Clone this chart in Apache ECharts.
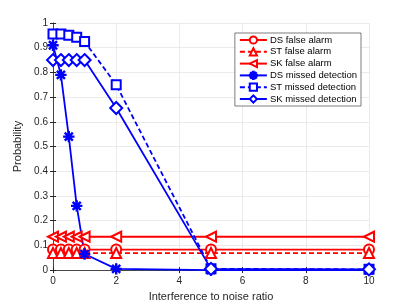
<!DOCTYPE html>
<html><head><meta charset="utf-8">
<script src="https://cdn.jsdelivr.net/npm/echarts@6/dist/echarts.min.js"></script>
<style>html,body{margin:0;padding:0;background:#fff}#c{width:409px;height:307px}</style>
</head><body><div id="c"></div>
<script>
const xVals = [0, 0.25, 0.5, 0.75, 1, 2, 5, 10];
const dsFalseAlarm = [0.083, 0.083, 0.083, 0.083, 0.083, 0.083, 0.083, 0.083];
const stFalseAlarm = [0.069, 0.069, 0.069, 0.069, 0.069, 0.069, 0.069, 0.069];
const skFalseAlarm = [0.135, 0.135, 0.135, 0.135, 0.135, 0.135, 0.135, 0.135];
const dsMissed = [0.91, 0.79, 0.54, 0.26, 0.065, 0.005, 0.0, 0.0];
const stMissed = [0.955, 0.955, 0.95, 0.942, 0.925, 0.75, 0.005, 0.003];
const skMissed = [0.85, 0.85, 0.85, 0.85, 0.85, 0.656, 0.005, 0.003];
const seriesNames = ['DS false alarm', 'ST false alarm', 'SK false alarm', 'DS missed detection', 'ST missed detection', 'SK missed detection'];
const xTicks = [0, 2, 4, 6, 8, 10];
const yTicks = [0, 0.1, 0.2, 0.3, 0.4, 0.5, 0.6, 0.7, 0.8, 0.9, 1];

const star = 'path://M-1,-10 L1,-10 L1,10 L-1,10 Z M-10,-1 L10,-1 L10,1 L-10,1 Z M-7.8,-6.4 L-6.4,-7.8 L7.8,6.4 L6.4,7.8 Z M6.4,-7.8 L7.8,-6.4 L-6.4,7.8 L-7.8,6.4 Z';
const pair = arr => xVals.map((x, i) => [x, arr[i]]);
const RED = '#ff0000', BLUE = '#0000ff';
function mk(name, data, color, symbol, dashed, extra) {
  return Object.assign({
    name, type: 'line', data: pair(data), symbol, symbolSize: 10,
    lineStyle: { color, width: 1.8, type: dashed ? [5, 3] : 'solid' },
    itemStyle: { color, borderColor: color, borderWidth: 1.4 },
    emphasis: { disabled: true }, animation: false, z: 3
  }, extra || {});
}
const chart = echarts.init(document.getElementById('c'));
const axisTxt = { color: '#262626', fontSize: 10, fontFamily: 'Liberation Sans' };
chart.setOption({
  animation: false,
  grid: { left: 53, top: 23, width: 316, height: 250 },
  legend: {
    right: 48, top: 33, orient: 'vertical', itemWidth: 27, itemHeight: 9, itemGap: 1.8,
    backgroundColor: '#fff', borderColor: '#262626', borderWidth: 0.6, padding: [2, 4, 2, 4],
    textStyle: { color: '#000', fontSize: 9.5, fontFamily: 'Liberation Sans', padding: [0, 0, 0, -2] },
    data: seriesNames
  },
  xAxis: [{
    type: 'value', min: 0, max: 10, interval: 2,
    name: 'Interference to noise ratio', nameLocation: 'middle', nameGap: 18,
    nameTextStyle: { color: '#262626', fontSize: 11, fontFamily: 'Liberation Sans' },
    axisLine: { show: true, lineStyle: { color: '#262626', width: 0.6 } },
    axisTick: { show: true, inside: true, length: 3, lineStyle: { color: '#262626' } },
    axisLabel: Object.assign({ margin: 6, formatter: v => xTicks.includes(v) ? String(v) : '' }, axisTxt),
    splitLine: { show: true, lineStyle: { color: '#e6e6e6', width: 0.8 } }
  }, {
    type: 'value', min: 0, max: 10, interval: 2, position: 'top',
    axisLine: { show: true, lineStyle: { color: '#262626', width: 0.6 } },
    axisTick: { show: true, inside: true, length: 3, lineStyle: { color: '#262626' } },
    axisLabel: { show: false }, splitLine: { show: false }
  }],
  yAxis: [{
    type: 'value', min: 0, max: 1, interval: 0.1,
    name: 'Probability', nameLocation: 'middle', nameGap: 25,
    nameTextStyle: { color: '#262626', fontSize: 11, fontFamily: 'Liberation Sans' },
    axisLine: { show: true, lineStyle: { color: '#262626', width: 0.6 } },
    axisTick: { show: true, inside: true, length: 3, lineStyle: { color: '#262626' } },
    axisLabel: Object.assign({ margin: 5, formatter: v => String(+v.toFixed(1)) }, axisTxt),
    splitLine: { show: true, lineStyle: { color: '#e6e6e6', width: 0.8 } }
  }, {
    type: 'value', min: 0, max: 1, interval: 0.1, position: 'right',
    axisLine: { show: true, lineStyle: { color: '#262626', width: 0.6 } },
    axisTick: { show: true, inside: true, length: 3, lineStyle: { color: '#262626' } },
    axisLabel: { show: false }, splitLine: { show: false }
  }],
  series: [
    mk(seriesNames[0], dsFalseAlarm, RED, 'emptyCircle', false),
    mk(seriesNames[1], stFalseAlarm, RED, 'emptyTriangle', true),
    mk(seriesNames[2], skFalseAlarm, RED, 'emptyTriangle', false, { symbolRotate: 90 }),
    mk(seriesNames[3], dsMissed, BLUE, star, false, { symbolSize: 10 }),
    mk(seriesNames[4], stMissed, BLUE, 'emptyRect', true, { symbolSize: 9 }),
    mk(seriesNames[5], skMissed, BLUE, 'emptyDiamond', false, { symbolSize: 12 })
  ]
});
</script></body></html>
